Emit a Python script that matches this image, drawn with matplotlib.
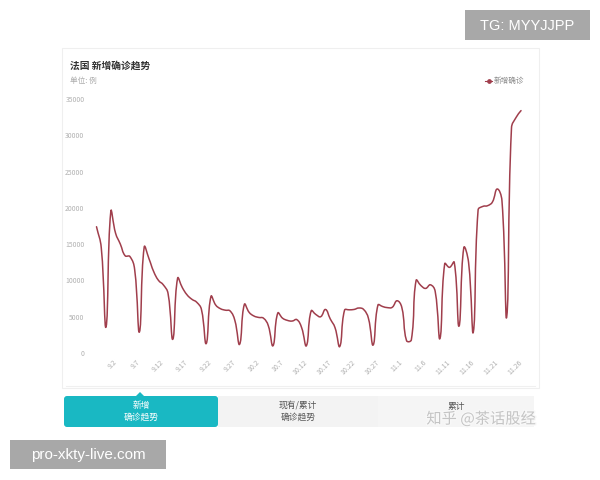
import numpy as np
import pandas as pd
import matplotlib
matplotlib.use("Agg")
import matplotlib.pyplot as plt
from matplotlib.path import Path
from matplotlib.patches import PathPatch, FancyBboxPatch, Rectangle, Polygon
import matplotlib.patheffects as pe

plt.rcParams['font.family'] = ['Noto Sans CJK SC', 'DejaVu Sans']

# ---------------- data ----------------
title = "法国 新增确诊趋势"
unit_label = "单位: 例"
series_name = "新增确诊"
start_date = "2021-08-29"
new_cases = [
    17400, 14500, 3600, 19500, 16500, 15000, 13400, 13300, 11500, 2900,
    14600, 13000, 11200, 10000, 9400, 8200, 1900, 10300, 9000, 8000,
    7400, 7000, 6000, 1300, 7800, 6600, 6100, 5900, 5800, 4500,
    1200, 6700, 5600, 5100, 4900, 4800, 3800, 1000, 5500, 4800,
    4500, 4400, 4600, 3500, 1000, 5800, 5300, 5000, 6000, 4700,
    3500, 900, 5900, 5950, 6000, 6200, 6000, 4800, 1100, 6600,
    6400, 6250, 6300, 7200, 6300, 1700, 1800, 10000, 9300, 8900,
    9400, 8500, 2000, 12300, 11800, 12500, 3700, 14500, 12500, 2900,
    19700, 20200, 20300, 20800, 22600, 21000, 5000, 31000, 32500, 33400,
]
y_ticks = [0, 5000, 10000, 15000, 20000, 25000, 30000, 35000]
tab_labels = ["新增\n确诊趋势", "现有/累计\n确诊趋势", "累计"]
watermark_zh = "知乎 @茶话股经"
watermark_tg = "TG: MYYJJPP"
watermark_site = "pro-xkty-live.com"

dates = pd.date_range(start_date, periods=len(new_cases))
date_labels = [f"{d.month}.{d.day}" for d in dates]

LINE_C = "#a03e4c"
W, H = 600, 480

fig = plt.figure(figsize=(W / 100, H / 100), dpi=100)
fig.patch.set_facecolor("white")

overlay = fig.add_axes([0, 0, 1, 1], zorder=0)
overlay.set_xlim(0, W)
overlay.set_ylim(H, 0)
overlay.axis("off")


def px_box(l, t, r, b):
    return [l / W, 1 - b / H, (r - l) / W, (b - t) / H]


# card
overlay.add_patch(Rectangle((62, 48), 477, 340, fc="white", ec="#efefef", lw=0.8))
overlay.plot([66, 535], [386, 386], color="#f0f0f0", lw=0.8)

# main axes
ax_l, ax_r, ax_t, ax_b = 90, 530, 99, 353
x0_px, dx_px = 96.5, 4.77
ax = fig.add_axes(px_box(ax_l, ax_t, ax_r, ax_b), zorder=1)
ax.set_facecolor("none")
ax.set_xlim((ax_l - x0_px) / dx_px, (ax_r - x0_px) / dx_px)
ax.set_ylim(y_ticks[0], y_ticks[-1])
for s in ax.spines.values():
    s.set_visible(False)

xs = np.arange(len(new_cases))
sx = (ax_r - ax_l) / (ax.get_xlim()[1] - ax.get_xlim()[0])
sy = (ax_b - ax_t) / (ax.get_ylim()[1] - ax.get_ylim()[0])


def smooth_path(xd, yd, sx, sy, smooth=0.45):
    X = np.asarray(xd, float) * sx
    Y = np.asarray(yd, float) * sy
    n = len(X)
    cin = np.zeros((n, 2))
    cout = np.zeros((n, 2))
    for i in range(n):
        p = np.array([X[i], Y[i]])
        prev = np.array([X[i - 1], Y[i - 1]]) if i > 0 else p
        nxt = np.array([X[i + 1], Y[i + 1]]) if i < n - 1 else p
        v = (nxt - prev) * smooth
        d0 = np.hypot(*(p - prev))
        d1 = np.hypot(*(nxt - p))
        s = d0 + d1
        r0 = d0 / s if s else 0
        r1 = d1 / s if s else 0
        cout[i] = p + v * r1
        cin[i] = p - v * r0
    verts = [(X[0], Y[0])]
    codes = [Path.MOVETO]
    for i in range(n - 1):
        verts += [tuple(cout[i]), tuple(cin[i + 1]), (X[i + 1], Y[i + 1])]
        codes += [Path.CURVE4] * 3
    verts = np.array(verts)
    verts[:, 0] /= sx
    verts[:, 1] /= sy
    return Path(verts, codes)


ax.add_patch(PathPatch(smooth_path(xs, new_cases, sx, sy), fill=False,
                       ec=LINE_C, lw=1.1, joinstyle="round", capstyle="round",
                       clip_on=False))

tick_idx = list(range(4, len(date_labels), 5))
ax.set_xticks(tick_idx)
ax.set_xticklabels([date_labels[i] for i in tick_idx], rotation=45, ha="right",
                   va="center", rotation_mode="anchor", fontsize=5.0, color="#b0b0b0")
ax.set_yticks(y_ticks)
ax.set_yticklabels([str(v) for v in y_ticks], fontsize=4.9, color="#b0b0b0")
ax.tick_params(axis="x", length=0, pad=6)
ax.tick_params(axis="y", length=0, pad=4)

# title / unit / legend
overlay.text(70, 66, title, fontsize=7, fontweight="bold", color="#333333",
             ha="left", va="center")
overlay.text(70, 81, unit_label, fontsize=5.5, color="#aaaaaa", ha="left", va="center")
overlay.plot([485, 492], [81, 81], color=LINE_C, lw=0.8)
overlay.plot([488.5], [81], marker="o", ms=2.4, color=LINE_C)
overlay.text(494, 81, series_name, fontsize=5.5, color="#888888", ha="left", va="center")

# tabs
overlay.add_patch(FancyBboxPatch((64, 396), 154, 31, boxstyle="round,pad=0,rounding_size=3",
                                 fc="#19b8c3", ec="none"))
overlay.add_patch(Polygon([[136, 396], [144, 396], [140, 392]], closed=True,
                          fc="#19b8c3", ec="none"))
overlay.add_patch(Rectangle((218, 396), 160, 31, fc="#f3f3f3", ec="none"))
overlay.add_patch(Rectangle((378, 396), 156, 31, fc="#f5f5f5", ec="none"))
tab_pos = [(141, 411.5), (298, 411.5), (456, 406)]
tab_colors = ["white", "#555555", "#555555"]
for (cx, cy), lab, c in zip(tab_pos, tab_labels, tab_colors):
    overlay.text(cx, cy, lab, fontsize=6.3, color=c, ha="center", va="center",
                 linespacing=1.4)

overlay.text(481, 419, watermark_zh, fontsize=11, color="#c4c4c4", ha="center",
             va="center", zorder=5,
             path_effects=[pe.withStroke(linewidth=2, foreground="#f8f8f8")])

# outer watermarks
overlay.add_patch(Rectangle((465, 10), 125, 30, fc="#a8a8a8", ec="none", zorder=6))
overlay.text(527.5, 25.5, watermark_tg, fontsize=10.5, color="white", ha="center",
             va="center", family=["Liberation Sans", "DejaVu Sans"], zorder=7)
overlay.add_patch(Rectangle((10, 440), 156, 29, fc="#a8a8a8", ec="none", zorder=6))
overlay.text(88, 455, watermark_site, fontsize=11, color="white", ha="center",
             va="center", family=["Liberation Sans", "DejaVu Sans"], zorder=7)

fig.savefig("out.png", dpi=100)
